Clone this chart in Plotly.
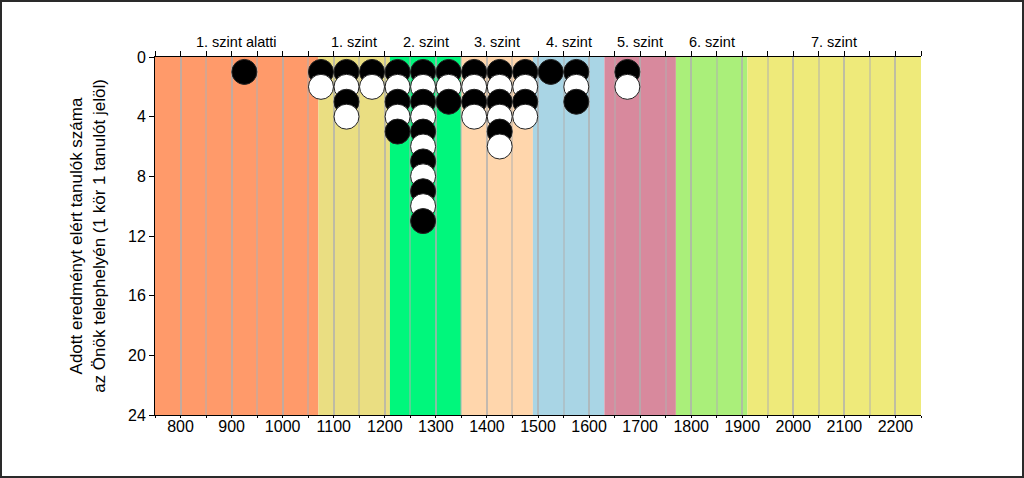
import plotly.graph_objects as go

# ---- data ----
level_names = ["1. szint alatti", "1. szint", "2. szint", "3. szint", "4. szint",
               "5. szint", "6. szint", "7. szint"]
level_bounds = [750, 1070, 1210, 1350, 1490, 1630, 1770, 1910, 2250]
level_colors = ["#FF9A6A", "#EADE82", "#00F77C", "#FFD6AC", "#A9D5E5",
                "#D8899D", "#AAEF7A", "#EEEA7A"]

score_bins = [925, 1075, 1125, 1175, 1225, 1275, 1325, 1375, 1425, 1475, 1525, 1575, 1675]
student_counts = [1, 2, 4, 2, 5, 11, 3, 4, 6, 4, 1, 3, 2]

x_tick_vals = list(range(800, 2201, 100))
y_tick_vals = [0, 4, 8, 12, 16, 20, 24]

# ---- build points (one circle per student) ----
px, py, pc = [], [], []
max_n = max(student_counts)
for k in range(1, max_n + 1):
    for xb, n in zip(score_bins, student_counts):
        if k <= n:
            px.append(xb)
            py.append(k)
            pc.append("#000000" if k % 2 == 1 else "#FFFFFF")

FONT = "Liberation Sans, Arial, sans-serif"
W, H = 1024, 478
ML, MR, MT, MB = 155, 103, 57, 63
PW, PH = W - ML - MR, H - MT - MB

fig = go.Figure()
fig.add_trace(go.Scatter(
    x=px, y=py, mode="markers",
    marker=dict(size=25, color=pc, line=dict(color="#222222", width=1)),
    hoverinfo="skip", showlegend=False, cliponaxis=False,
))
# invisible trace on top axis
fig.add_trace(go.Scatter(x=[level_bounds[0], level_bounds[-1]], y=[0, 0], xaxis="x2",
                         mode="markers", marker=dict(opacity=0), hoverinfo="skip",
                         showlegend=False))

shapes = []
for i, c in enumerate(level_colors):
    shapes.append(dict(type="rect", xref="x", yref="paper",
                       x0=level_bounds[i], x1=level_bounds[i + 1], y0=0, y1=1,
                       fillcolor=c, line=dict(width=0), layer="below"))
# dark frame around the whole image
shapes.append(dict(type="rect", xref="paper", yref="paper",
                   x0=(1 - ML) / PW, x1=(W - 1 - ML) / PW,
                   y0=(MT + PH - (H - 1)) / PH, y1=(MT + PH - 1) / PH,
                   line=dict(width=2, color="#2a2a2a"), layer="above"))

annotations = []
for i, name in enumerate(level_names):
    annotations.append(dict(x=(level_bounds[i] + level_bounds[i + 1]) / 2, y=1,
                            xref="x", yref="paper", text=name, showarrow=False,
                            yanchor="bottom", yshift=5,
                            font=dict(family=FONT, size=14.5, color="#000")))

grid_col = "rgba(175,175,175,0.5)"
fig.update_layout(
    width=W, height=H,
    margin=dict(l=ML, r=MR, t=MT, b=MB, autoexpand=False),
    paper_bgcolor="white", plot_bgcolor="white",
    shapes=shapes, annotations=annotations,
    font=dict(family=FONT, size=16, color="#000"),
    xaxis=dict(range=[level_bounds[0], level_bounds[-1]], tickvals=x_tick_vals,
               showline=True, linecolor="#000", linewidth=1,
               ticks="outside", ticklen=2, tickcolor="#000", ticklabelstandoff=-5,
               showgrid=True, gridcolor=grid_col, gridwidth=2,
               minor=dict(dtick=50, tick0=750, showgrid=True, gridcolor=grid_col,
                          gridwidth=2, ticks="outside", ticklen=2, tickcolor="#000"),
               zeroline=False, tickfont=dict(size=16), automargin=False),
    xaxis2=dict(range=[level_bounds[0], level_bounds[-1]], overlaying="x", side="top",
                anchor="y", showline=True, linecolor="#000", linewidth=1,
                tick0=750, dtick=50, ticks="outside", ticklen=5, tickcolor="#000",
                showticklabels=False, showgrid=False, zeroline=False, automargin=False),
    yaxis=dict(range=[24, 0], tickvals=y_tick_vals, showline=True, linecolor="#000",
               linewidth=1, ticks="outside", ticklen=5, tickcolor="#000",
               showgrid=False, zeroline=False, tickfont=dict(size=16), automargin=False,
               title=dict(text="Adott eredményt elért tanulók száma<br>az Önök telephelyén (1 kör 1 tanulót jelöl)",
                          font=dict(size=17), standoff=18)),
)

fig.write_html("out.html", config={"displayModeBar": False},
               post_script="document.body.style.margin='0';document.body.style.overflow='hidden';")
